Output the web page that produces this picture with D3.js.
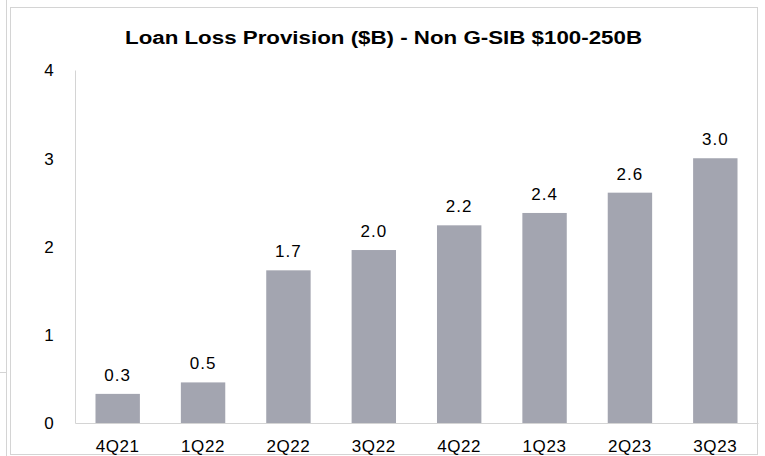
<!DOCTYPE html>
<html>
<head>
<meta charset="utf-8">
<script src="https://cdn.jsdelivr.net/npm/d3@7"></script>
<style>
    body { margin: 0; background: #fff; }
    text { font-family: "Liberation Sans", Arial, sans-serif; fill: #000; }
</style>
</head>
<body>
<svg id="chart"></svg>
<script>
let quarters = ["4Q21", "1Q22", "2Q22", "3Q22", "4Q22", "1Q23", "2Q23", "3Q23"];
let provisions = [0.33, 0.46, 1.73, 1.96, 2.24, 2.38, 2.61, 3.00];
let yTicks = [0, 1, 2, 3, 4];

let barColor = "#a3a5b0";
let lineColor = "#d4d4d4";

let W = 765, H = 456;
let margin = {top: 70, right: 7, bottom: 33, left: 75},
    width = W - margin.left - margin.right,
    height = H - margin.top - margin.bottom;

let root = d3.select("#chart")
    .attr("width", W)
    .attr("height", H);

// frame around the chart, plus the edge of the neighbouring one
root.append("rect")
    .attr("x", 10.5).attr("y", 7.5)
    .attr("width", 747).attr("height", 447)
    .attr("fill", "none")
    .attr("stroke", lineColor);
root.append("line")
    .attr("x1", 6.5).attr("x2", 6.5)
    .attr("y1", 0).attr("y2", H)
    .attr("stroke", lineColor);
root.append("line")
    .attr("x1", 0).attr("x2", 6)
    .attr("y1", 372.5).attr("y2", 372.5)
    .attr("stroke", lineColor);

// title glyphs are stretched wide in the original
root.append("text")
    .attr("x", 125)
    .attr("y", 43.5)
    .attr("textLength", 517)
    .attr("lengthAdjust", "spacingAndGlyphs")
    .style("font-size", "17.5px")
    .style("font-weight", "bold")
    .text("Loan Loss Provision ($B) - Non G-SIB $100-250B");

let svg = root.append("g")
    .attr("transform", "translate(" + margin.left + "," + margin.top + ")");

let x = d3.scaleBand()
    .range([0, width])
    .domain(quarters)
    .paddingInner(0.48)
    .paddingOuter(0.24);

let y = d3.scaleLinear()
    .range([height, 0])
    .domain([0, 4]);

// y axis
let yAxis = svg.append("g")
    .call(d3.axisLeft(y).tickValues(yTicks).tickSize(0).tickFormat(d3.format("d")));
yAxis.select(".domain").attr("stroke", lineColor);
yAxis.selectAll("text")
    .attr("x", -26)
    .attr("dy", "0.35em")
    .attr("text-anchor", "middle")
    .style("font-size", "17px");

// x axis
let xAxis = svg.append("g")
    .attr("transform", "translate(0," + height + ")")
    .call(d3.axisBottom(x).tickSize(0));
xAxis.select(".domain").attr("stroke", lineColor);
xAxis.selectAll("text")
    .attr("y", 29)
    .attr("dy", null)
    .style("font-size", "17px")
    .style("letter-spacing", "0.6px");

let data = quarters.map(function (q, i) {
    return {quarter: q, value: provisions[i]};
});

svg.selectAll(".bar").data(data)
    .enter()
    .append("rect")
    .attr("class", "bar")
    .attr("x", function (d) { return x(d.quarter); })
    .attr("y", function (d) { return y(d.value); })
    .attr("width", x.bandwidth())
    .attr("height", function (d) { return height - y(d.value); })
    .style("fill", barColor);

svg.selectAll(".label").data(data)
    .enter()
    .append("text")
    .attr("class", "label")
    .attr("x", function (d) { return x(d.quarter) + x.bandwidth() / 2; })
    .attr("y", function (d) { return y(d.value) - 13; })
    .attr("text-anchor", "middle")
    .style("font-size", "17px")
    .style("letter-spacing", "1px")
    .text(function (d) { return d.value.toFixed(1); });
</script>
</body>
</html>
